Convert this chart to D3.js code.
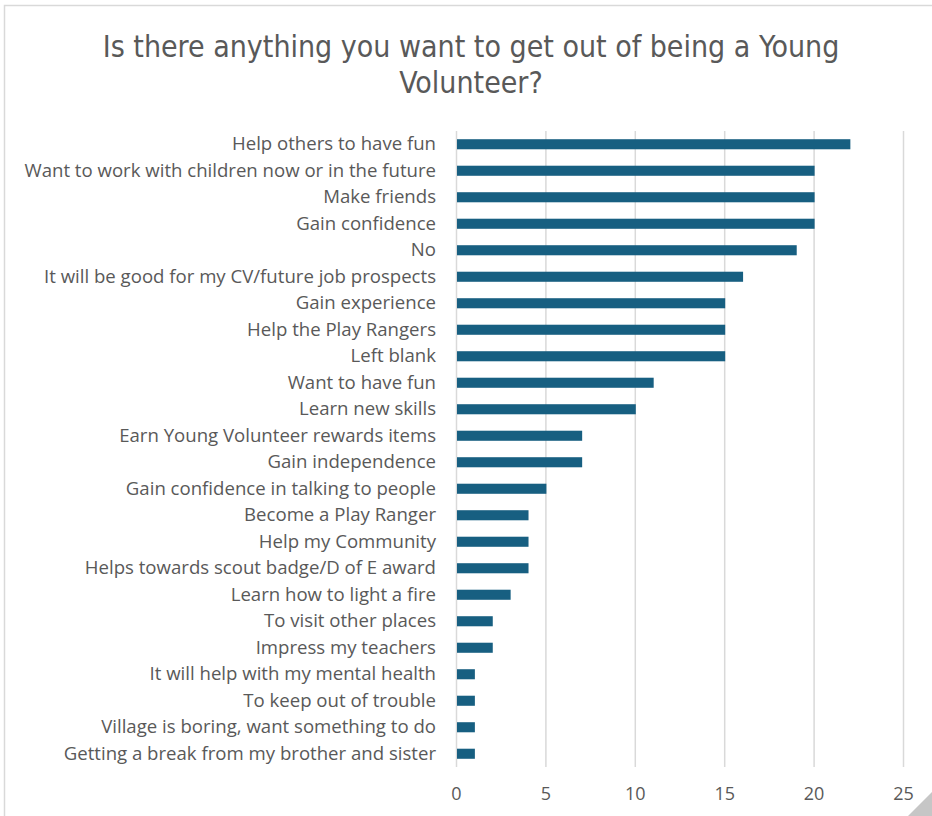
<!DOCTYPE html>
<html>
<head>
<meta charset="utf-8">
<script src="https://cdn.jsdelivr.net/npm/d3@7"></script>
<style>
  body { margin: 0; background: #fff; }
  svg { display: block; }
</style>
</head>
<body>
<div id="chart"></div>
<script>
var categories = [
    'Help others to have fun',
    'Want to work with children now or in the future',
    'Make friends',
    'Gain confidence',
    'No',
    'It will be good for my CV/future job prospects',
    'Gain experience',
    'Help the Play Rangers',
    'Left blank',
    'Want to have fun',
    'Learn new skills',
    'Earn Young Volunteer rewards items',
    'Gain independence',
    'Gain confidence in talking to people',
    'Become a Play Ranger',
    'Help my Community',
    'Helps towards scout badge/D of E award',
    'Learn how to light a fire',
    'To visit other places',
    'Impress my teachers',
    'It will help with my mental health',
    'To keep out of trouble',
    'Village is boring, want something to do',
    'Getting a break from my brother and sister'
];
var counts = [22, 20, 20, 20, 19, 16, 15, 15, 15, 11, 10, 7, 7, 5, 4, 4, 4, 3, 2, 2, 1, 1, 1, 1];
var tickValues = [0, 5, 10, 15, 20, 25];
var titleLines = ['Is there anything you want to get out of being a Young', 'Volunteer?'];

var width = 932, height = 816;
var textColor = '#595959';
var barColor = '#175f81';

var svg = d3.select('#chart').append('svg')
    .attr('width', width)
    .attr('height', height);

// chart frame
svg.append('path')
    .attr('d', 'M4.5,816 V5.5 H932')
    .attr('fill', 'none')
    .attr('stroke', '#d9d9d9')
    .attr('stroke-width', 1.5);

svg.append('path')
    .attr('d', 'M932,792 V816 H908 Z')
    .attr('fill', '#c6c6c6');

svg.append('text')
    .attr('x', 471)
    .attr('y', 57)
    .attr('text-anchor', 'middle')
    .style('font-family', '"DejaVu Sans Condensed", "Liberation Sans Narrow", sans-serif')
    .style('font-size', '30px')
    .style('fill', textColor)
    .selectAll('tspan')
    .data(titleLines)
    .enter()
    .append('tspan')
    .attr('x', 471)
    .attr('dy', function (d, i) { return i === 0 ? 0 : 36; })
    .text(function (d) { return d; });

var x = d3.scaleLinear().domain([0, 25]).range([456, 903]);
var y = d3.scaleBand().domain(categories).range([131, 767]).paddingInner(0.62).paddingOuter(0.31);

svg.append('g')
    .selectAll('line')
    .data(tickValues)
    .enter()
    .append('line')
    .attr('x1', function (d) { return x(d) + 0.5; })
    .attr('x2', function (d) { return x(d) + 0.5; })
    .attr('y1', 131)
    .attr('y2', 767)
    .attr('stroke', '#d9d9d9')
    .attr('stroke-width', 1.5);

svg.append('g')
    .selectAll('rect')
    .data(counts)
    .enter()
    .append('rect')
    .attr('x', x(0) + 1)
    .attr('y', function (d, i) { return y(categories[i]); })
    .attr('width', function (d) { return x(d) - x(0); })
    .attr('height', y.bandwidth())
    .attr('fill', barColor);

var yAxis = svg.append('g')
    .attr('transform', 'translate(' + 456 + ',0)')
    .call(d3.axisLeft(y).tickSize(0).tickPadding(20));
yAxis.select('.domain').remove();
yAxis.selectAll('text')
    .style('font-family', '"Open Sans", sans-serif')
    .style('font-size', '18.6px')
    .style('fill', textColor);

var xAxis = svg.append('g')
    .attr('transform', 'translate(0,' + 787 + ')')
    .call(d3.axisBottom(x).tickValues(tickValues).tickSize(0).tickPadding(0));
xAxis.select('.domain').remove();
xAxis.selectAll('text')
    .style('font-family', '"Open Sans", sans-serif')
    .style('font-size', '18px')
    .style('fill', textColor);
</script>
</body>
</html>
